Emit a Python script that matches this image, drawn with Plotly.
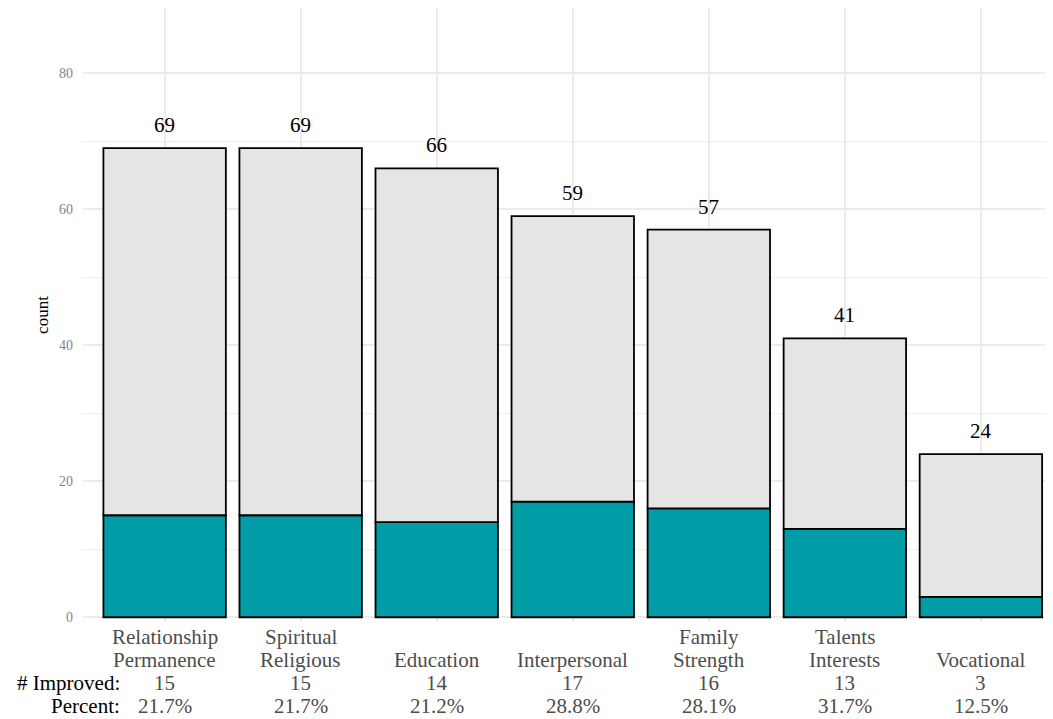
import plotly.graph_objects as go

categories = ["Relationship\nPermanence", "Spiritual\nReligious", "Education", "Interpersonal",
              "Family\nStrength", "Talents\nInterests", "Vocational"]
totals = [69, 69, 66, 59, 57, 41, 24]
improved = [15, 15, 14, 17, 16, 13, 3]
percents = ["21.7%", "21.7%", "21.2%", "28.8%", "28.1%", "31.7%", "12.5%"]
y_ticks = [0, 20, 40, 60, 80]

FONT = "Liberation Serif, Times New Roman, serif"
TEAL = "#009DA6"
GREY = "#E5E5E5"
LABEL_GREY = "#4D4D4D"

x = list(range(len(categories)))
rest = [t - i for t, i in zip(totals, improved)]

fig = go.Figure()
fig.add_trace(go.Bar(x=x, y=improved, width=0.9,
                     marker=dict(color=TEAL, line=dict(color="black", width=1.8)),
                     showlegend=False, hoverinfo="skip"))
fig.add_trace(go.Bar(x=x, y=rest, base=improved, width=0.9,
                     marker=dict(color=GREY, line=dict(color="black", width=1.8)),
                     showlegend=False, hoverinfo="skip"))

annotations = []
for xi, t in zip(x, totals):
    annotations.append(dict(x=xi, y=t, xref="x", yref="y", text=str(t), showarrow=False,
                            yanchor="bottom", yshift=9, font=dict(family=FONT, size=21, color="black")))

LINE_OFFSETS = [-84, -61, -38, -15]  # from bottom line upward, px below plot bottom (centres)
for xi, c, imp, p in zip(x, categories, improved, percents):
    lines = c.split("\n") + [str(imp), p]
    for k, line in enumerate(reversed(lines)):
        annotations.append(dict(x=xi, y=0, xref="x", yref="paper", text=line, showarrow=False,
                                yanchor="middle", yshift=LINE_OFFSETS[k],
                                font=dict(family=FONT, size=21, color=LABEL_GREY)))
annotations.append(dict(x=0.04, y=0, xref="paper", yref="paper", text="# Improved:", showarrow=False,
                        xanchor="right", yanchor="middle", yshift=-61,
                        font=dict(family=FONT, size=21, color="black")))
annotations.append(dict(x=0.04, y=0, xref="paper", yref="paper", text="Percent:", showarrow=False,
                        xanchor="right", yanchor="middle", yshift=-84,
                        font=dict(family=FONT, size=21, color="black")))

fig.update_layout(
    width=1045, height=711,
    margin=dict(l=75, r=0, t=0, b=97),
    paper_bgcolor="white", plot_bgcolor="white",
    barmode="overlay",
    annotations=annotations,
    font=dict(family=FONT),
)
fig.update_xaxes(range=[-0.6, 6.53], tickvals=x, ticktext=[""] * len(x), showgrid=True,
                 gridcolor="#EBEBEB", gridwidth=1.5, zeroline=False, showline=False, ticks="")
fig.update_yaxes(range=[-0.7, 89.6], tickvals=y_ticks, showgrid=True, gridcolor="#EBEBEB", gridwidth=1.5,
                 zeroline=False, showline=False, ticks="", ticklabelstandoff=9,
                 tickfont=dict(family=FONT, size=14, color="#858585"),
                 minor=dict(tickvals=[10, 30, 50, 70, 90], showgrid=True, gridcolor="#EFEFEF", gridwidth=1),
                 title=dict(text="count", font=dict(family=FONT, size=17, color="black"), standoff=6))

fig.write_html("out.html")
